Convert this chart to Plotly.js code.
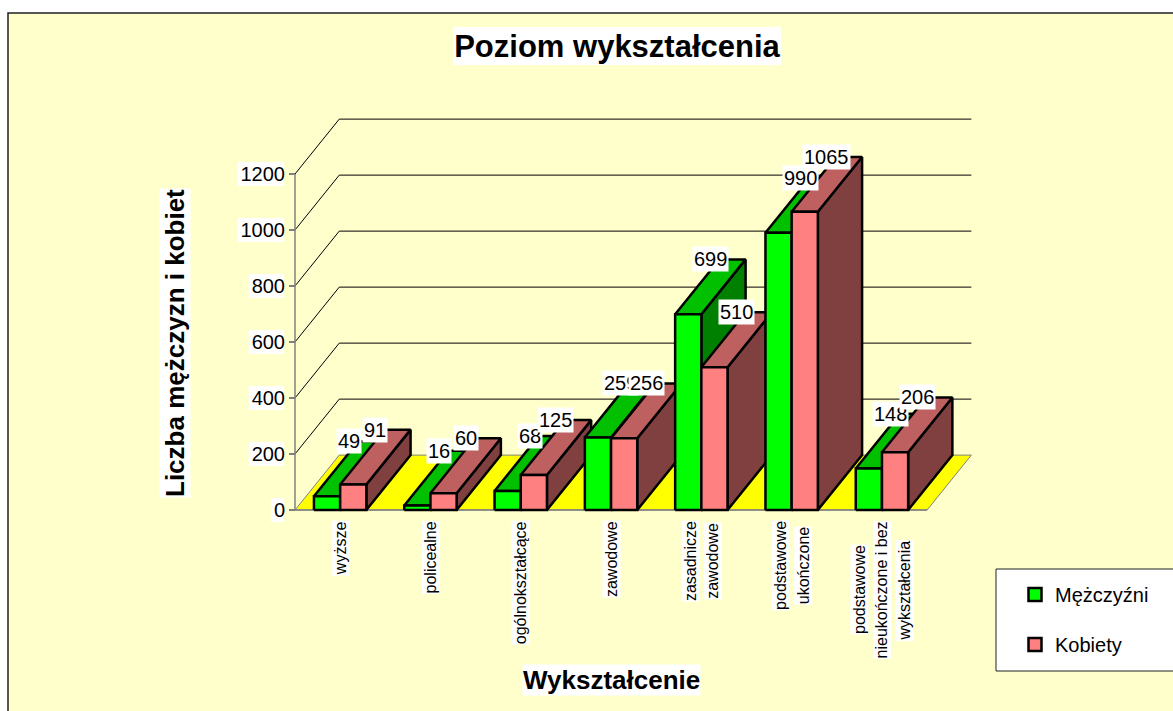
<!DOCTYPE html>
<html><head><meta charset="utf-8">
<script src="https://cdn.plot.ly/plotly-3.0.1.min.js"></script>
<style>html,body{margin:0;padding:0;background:#fff;overflow:hidden}</style>
</head><body><div id="chart" style="width:1173px;height:711px"></div>
<script>
const categories = ['wyższe','policealne','ogólnokształcące','zawodowe','zasadnicze<br>zawodowe','podstawowe<br>ukończone','podstawowe<br>nieukończone i bez<br>wykształcenia'];
const men = [49,16,68,259,699,990,148];
const women = [91,60,125,256,510,1065,206];
const yTicks = [0,200,400,600,800,1000,1200];
const chartTitle = 'Poziom wykształcenia';
const xTitle = 'Wykształcenie';
const yTitle = 'Liczba mężczyzn i kobiet';
const FONT = '"Liberation Sans", Arial, sans-serif';

const W = 1173, H = 711;
const X0 = 295, PXCAT = 90.3, Y0 = 510, PXVAL = 0.28;
const DX = 0.49, DY = 196, BW = 0.29;
const fx = p => p / W, fy = p => 1 - p / H;

const traces = [];
// floor
traces.push({x:[0,7,7+DX,DX,0],y:[0,0,DY,DY,0],mode:'lines',fill:'toself',fillcolor:'#ffff00',
  line:{color:'#808080',width:1},showlegend:false,hoverinfo:'skip',cliponaxis:false});
// oblique gridlines
yTicks.slice(1).forEach(v=>traces.push({x:[0,DX,7+DX],y:[v,v+DY,v+DY],mode:'lines',
  line:{color:'#000000',width:1},showlegend:false,hoverinfo:'skip',cliponaxis:false}));
// axis lines
traces.push({x:[0,0],y:[0,1200],mode:'lines',line:{color:'#808080',width:1.5},showlegend:false,hoverinfo:'skip'});
traces.push({x:[0,7],y:[0,0],mode:'lines',line:{color:'#808080',width:1.5},showlegend:false,hoverinfo:'skip'});

function face(xs,ys,color){
  traces.push({x:xs,y:ys,mode:'lines',fill:'toself',fillcolor:color,
    line:{color:'#000000',width:2.5},showlegend:false,hoverinfo:'skip',cliponaxis:false});
}
function bar(x0,v,front,top,side){
  const x1=x0+BW;
  face([x1,x1+DX,x1+DX,x1,x1],[0,DY,v+DY,v,0],side);
  face([x0,x0+DX,x1+DX,x1,x0],[v,v+DY,v+DY,v,v],top);
  face([x0,x1,x1,x0,x0],[0,0,v,v,0],front);
}
const annotations = [];
categories.forEach((c,i)=>{
  const mid=i+0.5;
  bar(mid-BW,men[i],'#00ff00','#00c000','#008000');
  bar(mid,women[i],'#ff8080','#bf6060','#804040');
});
// value labels
const lab=(x,v)=>annotations.push({x:x+DX/2,y:v+DY,text:String(v),showarrow:false,xanchor:'center',yanchor:'middle',
  bgcolor:'#ffffff',borderpad:1,font:{family:FONT,size:20,color:'#000'}});
categories.forEach((c,i)=>{
  lab(i+0.5-BW/2,men[i]);
  lab(i+0.5+BW/2,women[i]);
});
// category labels, one white-backed text per line
const ctx=document.createElement('canvas').getContext('2d');
ctx.font='16px "Liberation Sans"';
categories.forEach((c,i)=>{
  const lines=c.split('<br>');
  const ws=lines.map(l=>ctx.measureText(l).width);
  const m=Math.max(...ws);
  lines.forEach((l,j)=>{
    annotations.push({x:i+0.5,y:(Y0-520)/PXVAL,text:l,showarrow:false,textangle:-90,
      xanchor:'center',yanchor:'top',xshift:(j-(lines.length-1)/2)*22.5,yshift:-(m-ws[j])/2,
      bgcolor:'#ffffff',borderpad:0,font:{family:FONT,size:16,color:'#000'}});
  });
});
annotations.push({xref:'paper',yref:'paper',x:fx(611),y:fy(680),text:'<b>'+xTitle+'</b>',showarrow:false,
  xanchor:'center',yanchor:'middle',bgcolor:'#fff',borderpad:0,font:{family:FONT,size:26,color:'#000'}});
annotations.push({xref:'paper',yref:'paper',x:fx(175),y:fy(343),text:'<b>'+yTitle+'</b>',showarrow:false,textangle:-90,
  xanchor:'center',yanchor:'middle',bgcolor:'#fff',borderpad:0,font:{family:FONT,size:26,color:'#000'}});

// legend swatches
traces.push({x:[null],y:[null],name:'Mężczyźni',legendgroup:'m',mode:'markers',
  marker:{symbol:'square',size:13,color:'#00ff00',line:{color:'#000',width:2.5}}});
traces.push({x:[null],y:[null],name:'Kobiety',legendgroup:'k',mode:'markers',
  marker:{symbol:'square',size:13,color:'#ff8080',line:{color:'#000',width:2.5}}});

const shapes = [
  {type:'rect',xref:'paper',yref:'paper',x0:fx(8),x1:1.02,y0:-0.02,y1:fy(13),fillcolor:'#ffffcc',line:{color:'#202020',width:1.5},layer:'below'},
  {type:'rect',xref:'paper',yref:'paper',x0:fx(453),x1:fx(781),y0:fy(65),y1:fy(27),fillcolor:'#fff',line:{width:0},layer:'below'},
  {type:'rect',xref:'paper',yref:'paper',x0:fx(996),x1:1.02,y0:fy(671),y1:fy(569),fillcolor:'#fff',line:{color:'#202020',width:1},layer:'below'}
];
yTicks.forEach(v=>{
  const p=Y0-v*PXVAL, w=String(v).length*11.1+2;
  shapes.push({type:'rect',xref:'paper',yref:'paper',x0:fx(284-w),x1:fx(284),y0:fy(p+12),y1:fy(p-12),fillcolor:'#fff',line:{width:0},layer:'below'});
});

const layout = {
  width:W,height:H,margin:{l:0,r:0,t:0,b:0,pad:0},
  paper_bgcolor:'#ffffff',plot_bgcolor:'rgba(0,0,0,0)',
  title:{text:chartTitle,x:fx(617),y:fy(46),xref:'paper',yref:'paper',xanchor:'center',yanchor:'middle',
    font:{family:FONT,size:31,color:'#000',weight:700}},
  xaxis:{range:[-X0/PXCAT,(W-X0)/PXCAT],domain:[0,1],showgrid:false,zeroline:false,showline:false,showticklabels:false,ticks:''},
  yaxis:{range:[-(H-Y0)/PXVAL,Y0/PXVAL],domain:[0,1],anchor:'free',position:fx(X0),side:'left',
    tickmode:'array',tickvals:yTicks,ticktext:yTicks.map(String),ticks:'outside',ticklen:6,tickcolor:'#808080',tickwidth:1.5,
    showgrid:false,zeroline:false,showline:false,tickfont:{family:FONT,size:20,color:'#000'}},
  legend:{x:fx(1015),y:fy(575),xanchor:'left',yanchor:'top',bgcolor:'rgba(0,0,0,0)',borderwidth:0,
    traceorder:'grouped',tracegroupgap:21,font:{family:FONT,size:20,color:'#000'}},
  showlegend:true,annotations,shapes,hovermode:false
};
Plotly.newPlot('chart',traces,layout,{displayModeBar:false,staticPlot:true});
</script></body></html>
